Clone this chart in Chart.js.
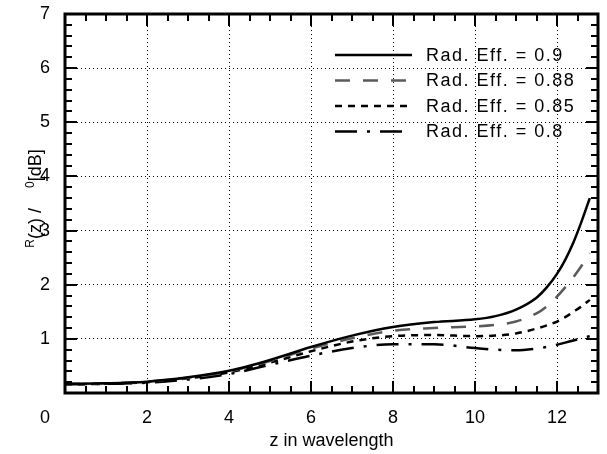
<!DOCTYPE html>
<html>
<head>
<meta charset="utf-8">
<script src="https://cdn.jsdelivr.net/npm/chart.js@4/dist/chart.umd.min.js"></script>
<style>
  body { margin: 0; background: #fff; }
  #wrap { width: 607px; height: 454px; }
</style>
</head>
<body>
<div id="wrap"><canvas id="grafico" width="607" height="454"></canvas></div>
<script>
// Datos
const zValores = [0, 1, 2, 3, 4, 5, 6, 7, 8, 9, 10, 10.5, 11, 11.5, 11.75, 12, 12.2, 12.4, 12.6, 12.8];
const efic090 = [0.17, 0.18, 0.21, 0.29, 0.41, 0.61, 0.85, 1.06, 1.22, 1.31, 1.36, 1.42, 1.54, 1.76, 1.95, 2.20, 2.46, 2.78, 3.17, 3.6];
const efic088 = [0.17, 0.18, 0.21, 0.28, 0.40, 0.59, 0.82, 1.01, 1.15, 1.20, 1.23, 1.26, 1.32, 1.47, 1.60, 1.78, 1.95, 2.14, 2.35, 2.58];
const efic085 = [0.16, 0.17, 0.20, 0.27, 0.38, 0.56, 0.77, 0.95, 1.05, 1.07, 1.05, 1.06, 1.10, 1.19, 1.25, 1.32, 1.40, 1.50, 1.60, 1.72];
const efic080 = [0.16, 0.17, 0.19, 0.25, 0.35, 0.52, 0.69, 0.83, 0.90, 0.90, 0.83, 0.80, 0.79, 0.82, 0.85, 0.89, 0.93, 0.97, 1.01, 1.05];
const etiquetas = ['Rad. Eff. = 0.9', 'Rad. Eff. = 0.88', 'Rad. Eff. = 0.85', 'Rad. Eff. = 0.8'];
const xTicks = [0, 2, 4, 6, 8, 10, 12];
const yTicks = [1, 2, 3, 4, 5, 6, 7];

const FUENTE = '"Liberation Sans", Arial, sans-serif';

function puntos(ys) {
    return zValores.map((z, i) => ({ x: z, y: ys[i] }));
}

const estilos = [
    { color: '#000', dash: [] },
    { color: '#5a5a5a', dash: [15, 13] },
    { color: '#000', dash: [7, 6] },
    { color: '#000', dash: [22, 10, 3, 10] }
];
const series = [efic090, efic088, efic085, efic080];

const datasets = series.map((s, i) => ({
    label: etiquetas[i],
    data: puntos(s),
    borderColor: estilos[i].color,
    borderDash: estilos[i].dash,
    borderWidth: 2.5,
    pointRadius: 0,
    cubicInterpolationMode: 'monotone',
    fill: false
}));

// Marco, ticks interiores, leyenda y titulo del eje y
const decoracion = {
    id: 'decoracion',
    afterDraw(chart) {
        const ctx = chart.ctx;
        const xs = chart.scales.x, ys = chart.scales.y;
        const a = chart.chartArea;
        ctx.save();
        ctx.strokeStyle = '#000';
        ctx.setLineDash([]);

        // ticks
        ctx.lineWidth = 2;
        for (let v = 0.5; v < 13; v += 0.5) {
            const p = Math.round(xs.getPixelForValue(v));
            const largo = (v % 2 === 0) ? 12 : 7;
            ctx.beginPath();
            ctx.moveTo(p, a.bottom); ctx.lineTo(p, a.bottom - largo);
            ctx.moveTo(p, a.top); ctx.lineTo(p, a.top + largo);
            ctx.stroke();
        }
        for (let k = 1; k < 35; k++) {
            const v = k / 5;
            const p = Math.round(ys.getPixelForValue(v));
            const largo = (k % 5 === 0) ? 12 : 7;
            ctx.beginPath();
            ctx.moveTo(a.left, p); ctx.lineTo(a.left + largo, p);
            ctx.moveTo(a.right, p); ctx.lineTo(a.right - largo, p);
            ctx.stroke();
        }

        // marco
        ctx.lineWidth = 3;
        ctx.strokeRect(a.left, a.top, a.right - a.left, a.bottom - a.top);

        // etiqueta "0" del eje x
        ctx.fillStyle = '#000';
        ctx.font = '18px ' + FUENTE;
        ctx.textAlign = 'center';
        ctx.textBaseline = 'middle';
        ctx.fillText('0', xs.getPixelForValue(0) - 20, 418);

        // leyenda
        const x0 = 335, x1 = 412;
        chart.data.datasets.forEach((ds, i) => {
            const y = 55 + i * 25.5;
            ctx.strokeStyle = ds.borderColor;
            ctx.lineWidth = 2.5;
            ctx.setLineDash(ds.borderDash);
            ctx.beginPath();
            ctx.moveTo(x0, y); ctx.lineTo(x1, y);
            ctx.stroke();
            ctx.setLineDash([]);
            ctx.fillStyle = '#000';
            ctx.textAlign = 'left';
            ctx.letterSpacing = '1.5px';
            ctx.fillText(ds.label, 426, y + 1);
            ctx.letterSpacing = '0px';
        });

        // titulo eje y con subindices (sin la letra griega)
        const partes = [
            { t: '  ', s: 18, dy: 0 },
            { t: 'R', s: 12, dy: -7 },
            { t: '(z) /  ', s: 18, dy: 0 },
            { t: '  ', s: 18, dy: 0 },
            { t: '0', s: 12, dy: -7 },
            { t: '[dB]', s: 18, dy: 0 }
        ];
        let total = 0;
        partes.forEach(p => { ctx.font = p.s + 'px ' + FUENTE; p.w = ctx.measureText(p.t).width; total += p.w; });
        ctx.translate(41, (a.top + a.bottom) / 2);
        ctx.rotate(-Math.PI / 2);
        ctx.textAlign = 'left';
        ctx.textBaseline = 'alphabetic';
        let cx = -total / 2;
        partes.forEach(p => {
            ctx.font = p.s + 'px ' + FUENTE;
            ctx.fillText(p.t, cx, p.dy);
            cx += p.w;
        });
        ctx.restore();
    }
};

new Chart(document.getElementById('grafico'), {
    type: 'line',
    data: { datasets: datasets },
    options: {
        responsive: false,
        animation: false,
        layout: { padding: { top: 14, right: 9, left: 0, bottom: 0 } },
        plugins: { legend: { display: false }, tooltip: { enabled: false } },
        scales: {
            x: {
                type: 'linear',
                min: 0, max: 13,
                afterBuildTicks: s => { s.ticks = xTicks.map(v => ({ value: v })); },
                afterFit: s => { s.height = 61; s.paddingLeft = 0; s.paddingRight = 0; },
                grid: { color: '#000', lineWidth: 1, drawTicks: false },
                border: { display: false, dash: [1, 3] },
                ticks: {
                    color: '#000',
                    font: { family: FUENTE, size: 18 },
                    padding: 14,
                    maxRotation: 0,
                    callback: v => (v === 0 ? '' : String(v))
                },
                title: {
                    display: true,
                    text: 'z in wavelength',
                    color: '#000',
                    font: { family: FUENTE, size: 18 },
                    padding: { top: 0, bottom: 2 }
                }
            },
            y: {
                min: 0, max: 7,
                afterBuildTicks: s => { s.ticks = yTicks.map(v => ({ value: v })); },
                afterFit: s => { s.width = 65; s.paddingTop = 0; s.paddingBottom = 0; },
                grid: { color: '#000', lineWidth: 1, drawTicks: false },
                border: { display: false, dash: [1, 3] },
                ticks: {
                    color: '#000',
                    font: { family: FUENTE, size: 18 },
                    padding: 15
                }
            }
        }
    },
    plugins: [decoracion]
});
</script>
</body>
</html>
